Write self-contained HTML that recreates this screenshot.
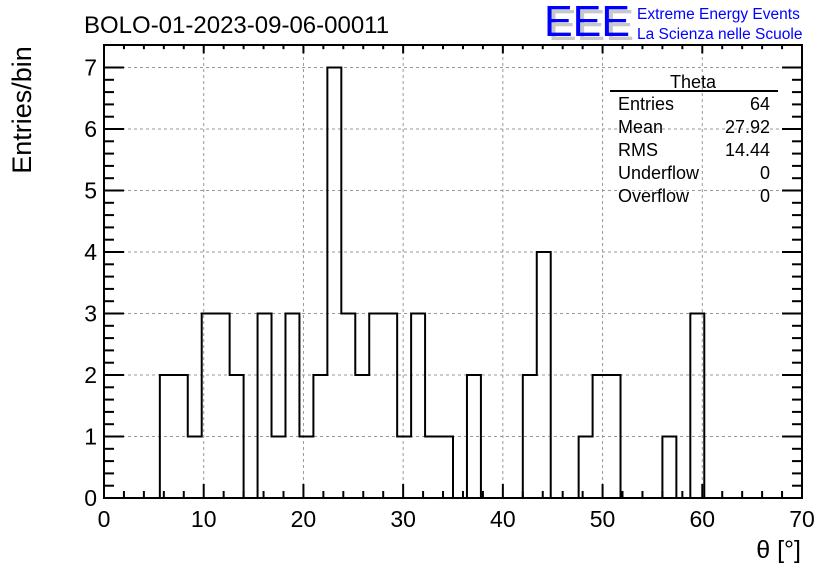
<!DOCTYPE html>
<html><head><meta charset="utf-8"><style>
body{margin:0;background:#fff}
svg{display:block;font-family:"Liberation Sans",sans-serif}
</style></head><body>
<svg id="c" width="836" height="572">
<text x="84" y="33" font-size="24">BOLO-01-2023-09-06-00011</text>
<g>
<text x="548" y="40" font-size="44" fill="#c8c8c8" textLength="86" lengthAdjust="spacingAndGlyphs">EEE</text>
<text x="544" y="36" font-size="44" fill="#0000ff" textLength="86" lengthAdjust="spacingAndGlyphs">EEE</text>
<text x="637" y="19" font-size="15.5" fill="#0000ff">Extreme Energy Events</text>
<text x="637" y="39" font-size="15.5" fill="#0000ff">La Scienza nelle Scuole</text>
</g>
<text transform="translate(31,110) rotate(-90)" font-size="27" text-anchor="middle">Entries/bin</text>
<text x="801" y="558" font-size="25" text-anchor="end">θ [°]</text>
<g id="grid"></g><g id="hist"></g><g id="axes"></g>
<g font-size="18">
<text x="693" y="88" text-anchor="middle">Theta</text>
<line x1="610" y1="91" x2="778" y2="91" stroke="#000" stroke-width="2"/>
<text x="618" y="110">Entries</text><text x="770" y="110" text-anchor="end">64</text>
<text x="618" y="133">Mean</text><text x="770" y="133" text-anchor="end">27.92</text>
<text x="618" y="156">RMS</text><text x="770" y="156" text-anchor="end">14.44</text>
<text x="618" y="179">Underflow</text><text x="770" y="179" text-anchor="end">0</text>
<text x="618" y="202">Overflow</text><text x="770" y="202" text-anchor="end">0</text>
</g>
</svg>
<script>
const binStart = 0, binWidth = 1.4;
const counts = [0,0,0,0,2,2,1,3,3,2,0,3,1,3,1,2,7,3,2,3,3,1,3,1,1,0,2,0,0,0,2,4,0,0,1,2,2,0,0,0,1,0,3,0,0,0,0,0,0,0];
const xTicks = [0,10,20,30,40,50,60,70];
const yTicks = [0,1,2,3,4,5,6,7];
const X0=104,X1=802,Y0=498,YT=45;
const xs=v=>X0+(v/70)*(X1-X0);
const ys=v=>Y0-v*(Y0-67.5)/7;
const NS="http://www.w3.org/2000/svg";
function mk(t,a,p){const e=document.createElementNS(NS,t);for(const k in a)e.setAttribute(k,a[k]);p.appendChild(e);return e;}
const grid=document.getElementById('grid'),hist=document.getElementById('hist'),axes=document.getElementById('axes');
xTicks.forEach(v=>{if(v>0&&v<70){const l=mk('line',{x1:xs(v),x2:xs(v),y1:YT,y2:Y0,stroke:'#999','stroke-dasharray':'3,3'},grid);

}});
yTicks.forEach(v=>{if(v>0){const l=mk('line',{x1:X0,x2:X1,y1:ys(v),y2:ys(v),stroke:'#999','stroke-dasharray':'3,3'},grid);

}});
let d='M'+xs(binStart)+','+ys(0);
counts.forEach((c,i)=>{const a=binStart+i*binWidth,b=a+binWidth;d+=' L'+xs(a)+','+ys(c)+' L'+xs(b)+','+ys(c);});
d+=' L'+xs(70)+','+ys(0);
const h=mk('path',{d:d,fill:'none',stroke:'#000','stroke-width':2},hist);


const fr=mk('rect',{x:X0,y:YT,width:X1-X0,height:Y0-YT,fill:'none',stroke:'#000','stroke-width':2},axes);


for(let v=0;v<=70;v+=2){const maj=v%10===0,L=maj?14:7;
mk('line',{x1:xs(v),x2:xs(v),y1:Y0,y2:Y0-L,stroke:'#000','stroke-width':2},axes);
mk('line',{x1:xs(v),x2:xs(v),y1:YT,y2:YT+L*0.6,stroke:'#000','stroke-width':2},axes);}
for(let k=0;k<=35;k++){const v=k*0.2,maj=k%5===0,L=maj?20:10;
mk('line',{x1:X0,x2:X0+L,y1:ys(v),y2:ys(v),stroke:'#000','stroke-width':2},axes);
mk('line',{x1:X1,x2:X1-L,y1:ys(v),y2:ys(v),stroke:'#000','stroke-width':2},axes);}
xTicks.forEach(v=>{const t=mk('text',{x:xs(v),y:527,'font-size':23,'text-anchor':'middle'},axes);t.textContent=v;

});
yTicks.forEach(v=>{const t=mk('text',{x:97,y:ys(v)+8,'font-size':23,'text-anchor':'end'},axes);t.textContent=v;

});
</script>
</body></html>
